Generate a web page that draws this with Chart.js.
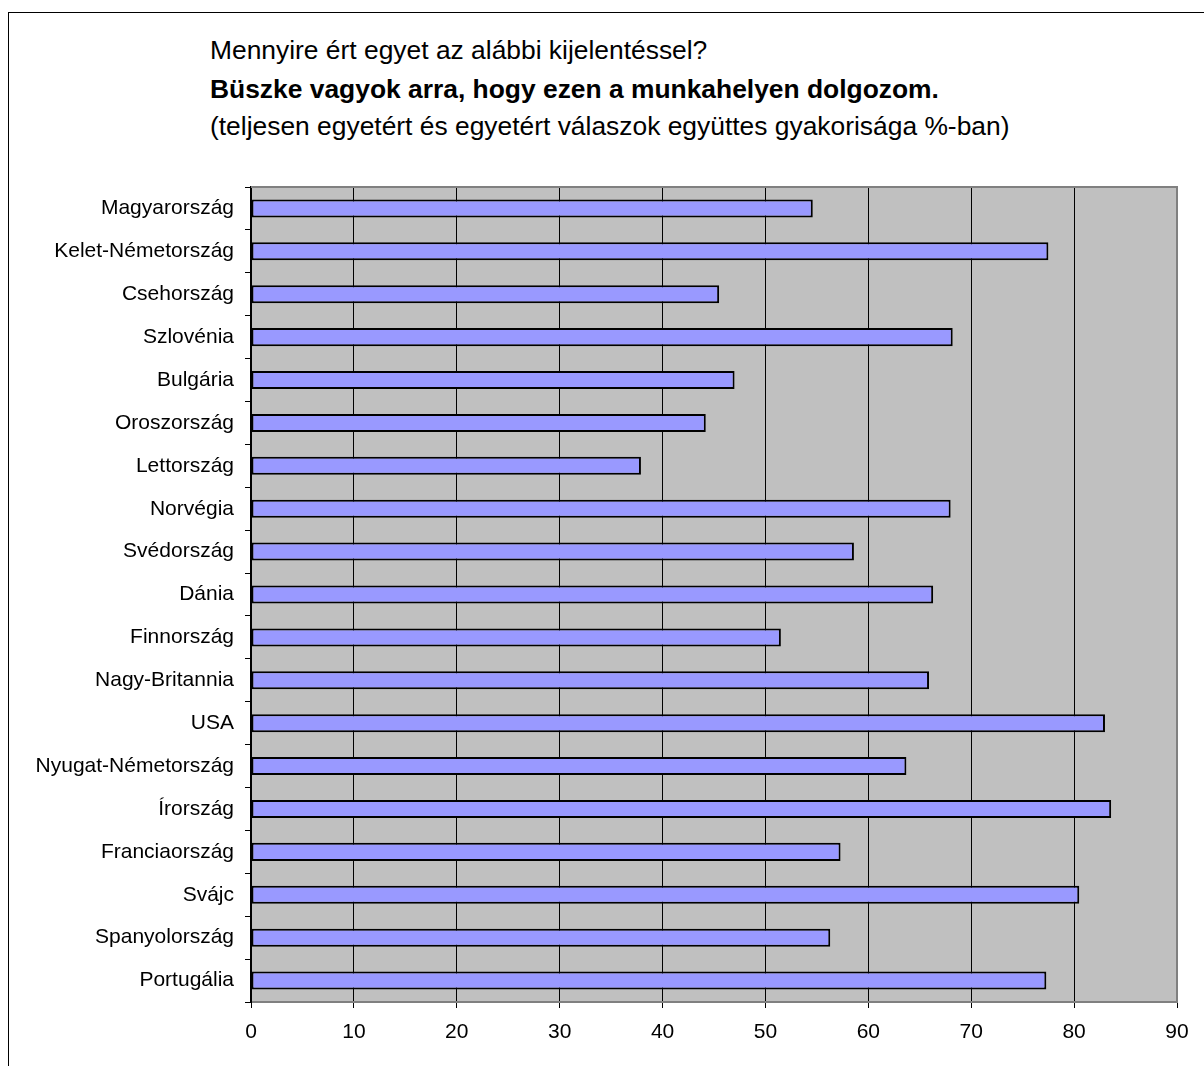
<!DOCTYPE html>
<html lang="hu">
<head>
<meta charset="utf-8">
<title>Büszke vagyok arra, hogy ezen a munkahelyen dolgozom</title>
<script src="https://cdn.jsdelivr.net/npm/chart.js@4/dist/chart.umd.min.js"></script>
<style>
  html, body { margin: 0; padding: 0; background: #fff; }
  body { width: 1204px; height: 1066px; position: relative; overflow: hidden; }
  #frame {
    position: absolute; left: 8px; top: 12px; width: 1300px; height: 1200px;
    border-left: 1px solid #000; border-top: 1px solid #000;
  }
  #chart { position: absolute; left: 0; top: 0; }
  .title-line {
    position: absolute; left: 210px; white-space: nowrap;
    font-family: "Liberation Sans", Arial, sans-serif; font-size: 26.4px;
    line-height: 38px; color: #000;
  }
  .bold { font-weight: bold; }
</style>
</head>
<body>
<div id="frame"></div>
<div class="title-line" style="top:31px">Mennyire ért egyet az alábbi kijelentéssel?</div>
<div class="title-line bold" style="top:70px">Büszke vagyok arra, hogy ezen a munkahelyen dolgozom.</div>
<div class="title-line" style="top:107px">(teljesen egyetért és egyetért válaszok együttes gyakorisága %-ban)</div>
<canvas id="chart" width="1204" height="1066"></canvas>
<script>
// Countries, top to bottom
const countries = [
  "Magyarország", "Kelet-Németország", "Csehország", "Szlovénia", "Bulgária",
  "Oroszország", "Lettország", "Norvégia", "Svédország", "Dánia",
  "Finnország", "Nagy-Britannia", "USA", "Nyugat-Németország", "Írország",
  "Franciaország", "Svájc", "Spanyolország", "Portugália"
];

// Share of "agree" + "strongly agree" answers, %
const agreeShare = [
  54.6, 77.5, 45.5, 68.2, 47.0,
  44.2, 37.9, 68.0, 58.6, 66.3,
  51.5, 65.9, 83.0, 63.7, 83.6,
  57.3, 80.5, 56.3, 77.3
];

// X axis range and step
const xMin = 0;
const xMax = 90;
const xStep = 10;

const labelFont = { family: "'Liberation Sans', Arial, sans-serif", size: 21 };

// Gray plot area plus the thin gray frame on top and right
const plotFrame = {
  id: "plotFrame",
  beforeDraw(chart) {
    const { ctx, chartArea: a } = chart;
    ctx.save();
    ctx.fillStyle = "#C0C0C0";
    ctx.fillRect(a.left, a.top, a.right - a.left, a.bottom - a.top);
    ctx.restore();
  },
  afterDraw(chart) {
    const { ctx, chartArea: a } = chart;
    ctx.save();
    ctx.strokeStyle = "#808080";
    ctx.lineWidth = 2;
    ctx.beginPath();
    ctx.moveTo(a.left, a.top);
    ctx.lineTo(a.right, a.top);
    ctx.lineTo(a.right, a.bottom);
    ctx.stroke();
    ctx.restore();
  }
};

const ctx = document.getElementById("chart").getContext("2d");
new Chart(ctx, {
  type: "bar",
  data: {
    labels: countries,
    datasets: [
      {
        data: agreeShare,
        backgroundColor: "#9999FF",
        borderColor: "#000000",
        borderWidth: 2,
        borderSkipped: false,
        barPercentage: 0.42,
        categoryPercentage: 1
      }
    ]
  },
  options: {
    indexAxis: "y",
    responsive: false,
    animation: false,
    devicePixelRatio: 1,
    layout: { padding: { left: 0, top: 187, right: 27, bottom: 0 } },
    plugins: {
      legend: { display: false },
      tooltip: { enabled: false }
    },
    scales: {
      x: {
        min: xMin,
        max: xMax,
        ticks: { stepSize: xStep, color: "#000", font: labelFont, padding: 12 },
        grid: { color: "#000", lineWidth: 1, tickLength: 6 },
        border: { color: "#808080", width: 2 },
        afterFit: (scale) => { scale.height = 64; }
      },
      y: {
        ticks: { color: "#000", font: labelFont, padding: 11, autoSkip: false },
        grid: { drawOnChartArea: false, color: "#000", tickLength: 6 },
        border: { color: "#000", width: 2 },
        afterFit: (scale) => { scale.width = 251; }
      }
    }
  },
  plugins: [plotFrame]
});
</script>
</body>
</html>
